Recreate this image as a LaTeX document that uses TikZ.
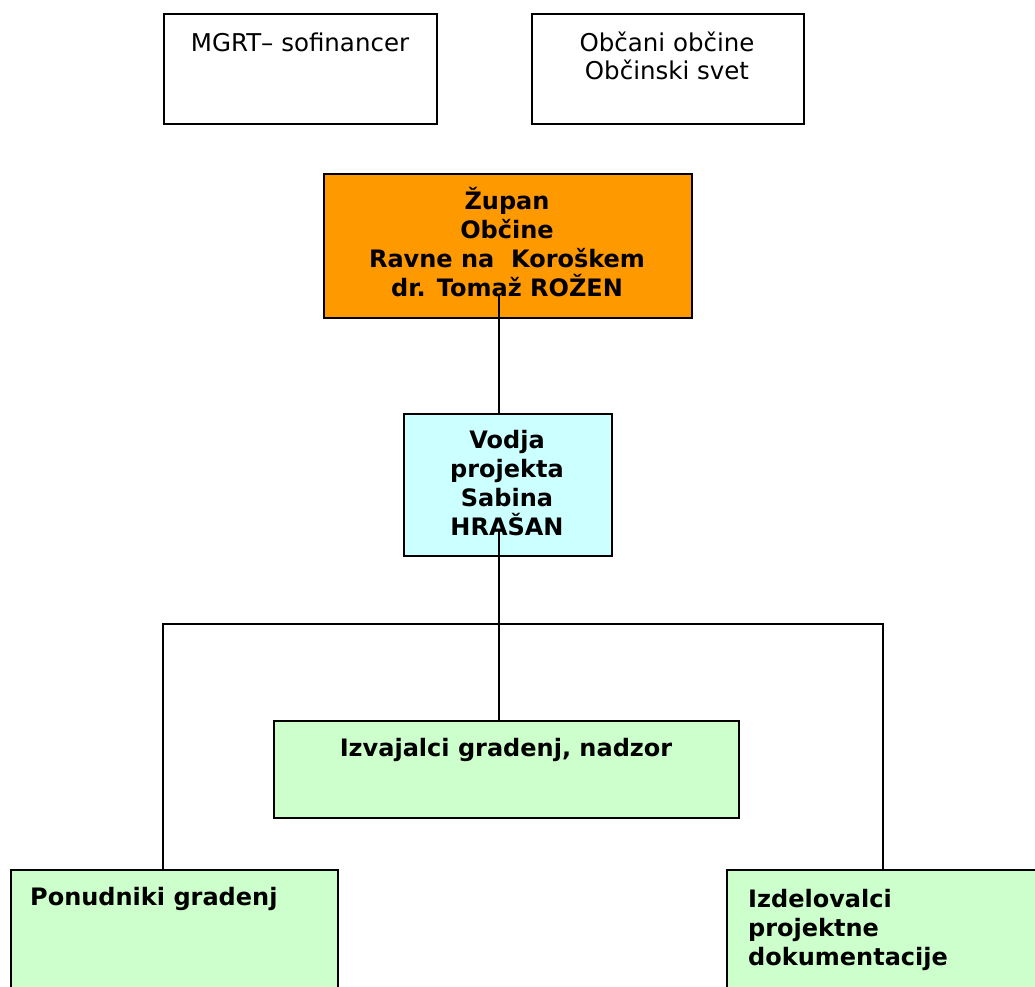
\documentclass[tikz,border=0pt]{standalone}
\usepackage{fontspec}
\setmainfont{DejaVu Sans}
\definecolor{zorange}{HTML}{FF9900}
\definecolor{zcyan}{HTML}{CCFFFF}
\definecolor{zgreen}{HTML}{CCFFCC}
\tikzset{
  box/.style={draw=black, line width=2pt, rectangle, inner sep=0pt},
  txt/.style={inner sep=0pt, font=\fontsize{24.5}{28}\selectfont, align=center},
  btxt/.style={inner sep=0pt, font=\fontsize{24}{29}\selectfont\bfseries, align=center},
  btxtl/.style={inner sep=0pt, font=\fontsize{24}{29}\selectfont\bfseries, align=left},
  conn/.style={line width=2pt}
}
\begin{document}
\begin{tikzpicture}[x=1pt,y=-1pt]
\useasboundingbox (0,0) rectangle (1035,986);
% boxes
\node[box, minimum width=273pt, minimum height=110pt, anchor=north west] (mgrt) at (163,13) {};
\node[box, minimum width=272pt, minimum height=110pt, anchor=north west] (obc) at (531,13) {};
\node[box, fill=zorange, minimum width=368pt, minimum height=144pt, anchor=north west] (zup) at (323,173) {};
\node[box, fill=zcyan, minimum width=208pt, minimum height=142pt, anchor=north west] (vod) at (403,413) {};
\node[box, fill=zgreen, minimum width=465pt, minimum height=97pt, anchor=north west] (izv) at (273,720) {};
\node[box, fill=zgreen, minimum width=327pt, minimum height=140pt, anchor=north west] (pon) at (10,869) {};
\node[box, fill=zgreen, minimum width=330pt, minimum height=140pt, anchor=north west] (izd) at (726,869) {};
% texts
\node[txt, anchor=north] (mgrtT) at (300,33) {MGRT– sofinancer};
\node[txt, anchor=north] (obcT) at (667,32) {Občani občine\\Občinski svet};
\node[btxt] (zupT) at (507,242) {Župan\\Občine\\Ravne na\ \ Koroškem\\dr. Tomaž ROŽEN};
\node[btxt] (vodT) at (507,483) {Vodja\\projekta\\Sabina\\HRAŠAN};
\node[btxt, anchor=north] (izvT) at (506,738) {Izvajalci gradenj, nadzor};
\node[btxtl, anchor=north west] (ponT) at (30,887) {Ponudniki gradenj};
\node[btxtl, anchor=north west] (izdT) at (748,889) {Izdelovalci\\projektne\\dokumentacije};
% connectors
\coordinate (zl) at (499,295);
\coordinate (vl) at (499,530);
\coordinate (bl) at (163,624);
\coordinate (br) at (883,624);
\draw[conn] (zl) -- (zl |- vod.north);
\draw[conn] (vl) -- (vl |- izv.north);
\draw[conn] (bl |- pon.north) -- (bl) -- (br) -- (br |- izd.north);
\end{tikzpicture}
\end{document}
